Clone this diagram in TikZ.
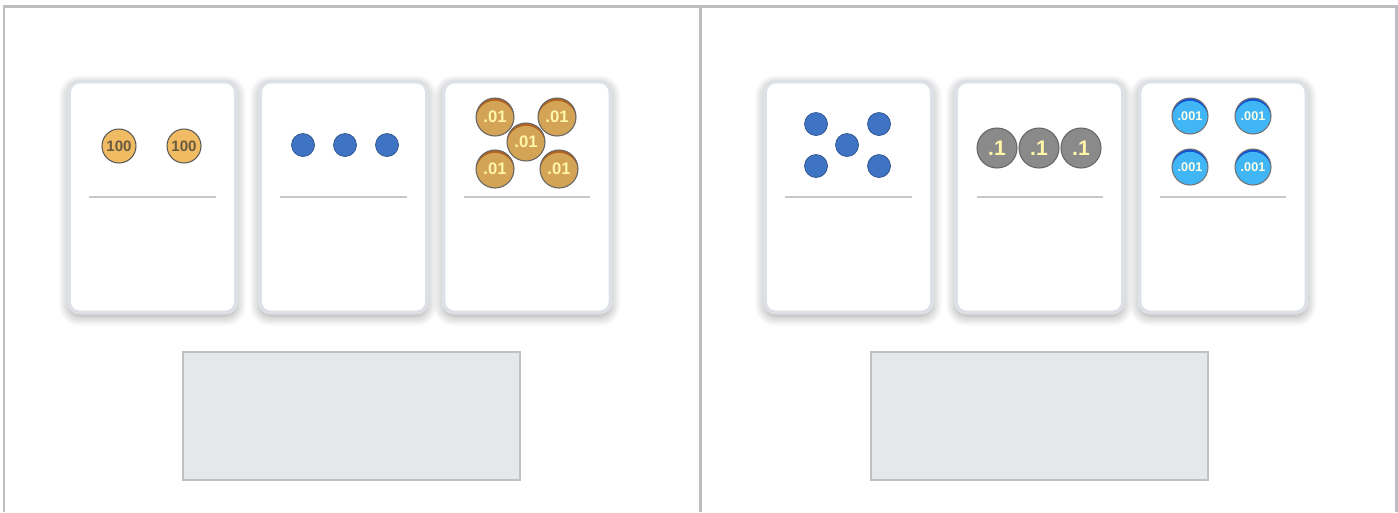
\documentclass[tikz,border=0pt]{standalone}
\usepackage{fontspec}
\setsansfont{Liberation Sans}
\usetikzlibrary{shadows.blur}
\definecolor{framegray}{HTML}{BDBEC2}
\definecolor{boxfill}{HTML}{E6E7E9}
\definecolor{boxline}{HTML}{C0C1C4}
\definecolor{cardline}{HTML}{DDE1E6}
\definecolor{sepgray}{HTML}{C8C8C8}
\definecolor{hundred}{HTML}{F0BB62}
\definecolor{hundredtxt}{HTML}{6A5B40}
\definecolor{cent}{HTML}{D3A356}
\definecolor{centrim}{HTML}{B0621E}
\definecolor{onesblue}{HTML}{3F74C4}
\definecolor{tenth}{HTML}{8A8A8A}
\definecolor{milli}{HTML}{40B6F6}
\definecolor{millirim}{HTML}{1452D2}
\definecolor{coinyellow}{HTML}{FFF6A8}
\tikzset{
  card/.style={draw=cardline, line width=2.2pt, fill=white, rounded corners=6pt,
    minimum width=3.34cm, minimum height=4.62cm, inner sep=0pt,
    blur shadow={shadow xshift=0pt, shadow yshift=-2pt, shadow blur radius=6pt,
      shadow blur steps=14, shadow opacity=38}},
  sepline/.style={draw=sepgray, line width=0.6pt},
  answer/.style={draw=boxline, fill=boxfill, line width=1.6pt, minimum width=6.74cm,
    minimum height=2.56cm, inner sep=0pt},
  frameline/.style={draw=framegray, line width=1.7pt},
  hundredcoin/.style={circle, draw=black!65, fill=hundred, line width=0.6pt, minimum size=0.68cm,
    inner sep=0pt, text=hundredtxt, font=\sffamily\bfseries\fontsize{8.6}{8.6}\selectfont},
  dot/.style={circle, draw=onesblue!70!black, fill=onesblue, line width=0.4pt, minimum size=0.46cm,
    inner sep=0pt},
  centcoin/.style={circle, draw=black!60, line width=0.6pt, minimum size=0.76cm, inner sep=0pt,
    text=coinyellow, font=\sffamily\bfseries\fontsize{9.5}{9.5}\selectfont,
    path picture={\fill[centrim] (path picture bounding box.center) circle (0.4cm);
      \fill[cent] ([yshift=-1.6pt]path picture bounding box.center) circle (0.38cm);}},
  tenthcoin/.style={circle, draw=black!60, fill=tenth, line width=0.6pt, minimum size=0.8cm,
    inner sep=0pt, text=coinyellow, font=\sffamily\bfseries\fontsize{12}{12}\selectfont},
  millicoin/.style={circle, draw=black!55, line width=0.6pt, minimum size=0.72cm, inner sep=0pt,
    text=white!90!yellow, font=\sffamily\bfseries\fontsize{7.2}{7.2}\selectfont,
    path picture={\fill[millirim] (path picture bounding box.center) circle (0.38cm);
      \fill[milli] ([yshift=-1.6pt]path picture bounding box.center) circle (0.36cm);}}
}
\begin{document}
\begin{tikzpicture}[x=0.02cm, y=-0.02cm]
  \useasboundingbox (0,0) rectangle (1398,512);
  % outer frame and divider
  \draw[frameline] (4,512) -- (4,6) -- (1396,6) -- (1396,512);
  \draw[frameline] (700,6) -- (700,512);

  % left panel cards
  \node[card] (c1) at (152.5,197) {};
  \node[card] (c2) at (343.5,197) {};
  \node[card] (c3) at (527,197) {};
  % right panel cards
  \node[card] (c4) at (848.5,197) {};
  \node[card] (c5) at (1039.5,197) {};
  \node[card] (c6) at (1223,197) {};

  \foreach \xa/\xb in {89/216, 280/407, 464/590, 785/912, 977/1103, 1160/1286}
    \draw[sepline] (\xa,197) -- (\xb,197);

  % hundreds
  \node[hundredcoin] (h1) at (119,146) {100};
  \node[hundredcoin] (h2) at (184,146) {100};
  % ones
  \foreach \x [count=\i] in {303,345,387}
    \node[dot] (o\i) at (\x,145) {};
  % hundredths
  \foreach \x/\y [count=\i] in {495/117, 557/117, 526/142, 495/169, 559/169}
    \node[centcoin] (p\i) at (\x,\y) {.01};

  % ones, right
  \foreach \x/\y [count=\i] in {816/124, 879/124, 847/145, 816/166, 879/166}
    \node[dot] (q\i) at (\x,\y) {};
  % tenths
  \foreach \x [count=\i] in {997,1039,1081}
    \node[tenthcoin] (t\i) at (\x,148) {.1};
  % thousandths
  \foreach \x/\y [count=\i] in {1190/116, 1253/116, 1190/167, 1253/167}
    \node[millicoin] (m\i) at (\x,\y) {.001};

  % answer boxes
  \node[answer] (a1) at (351.5,416) {};
  \node[answer] (a2) at (1039.5,416) {};
\end{tikzpicture}
\end{document}
